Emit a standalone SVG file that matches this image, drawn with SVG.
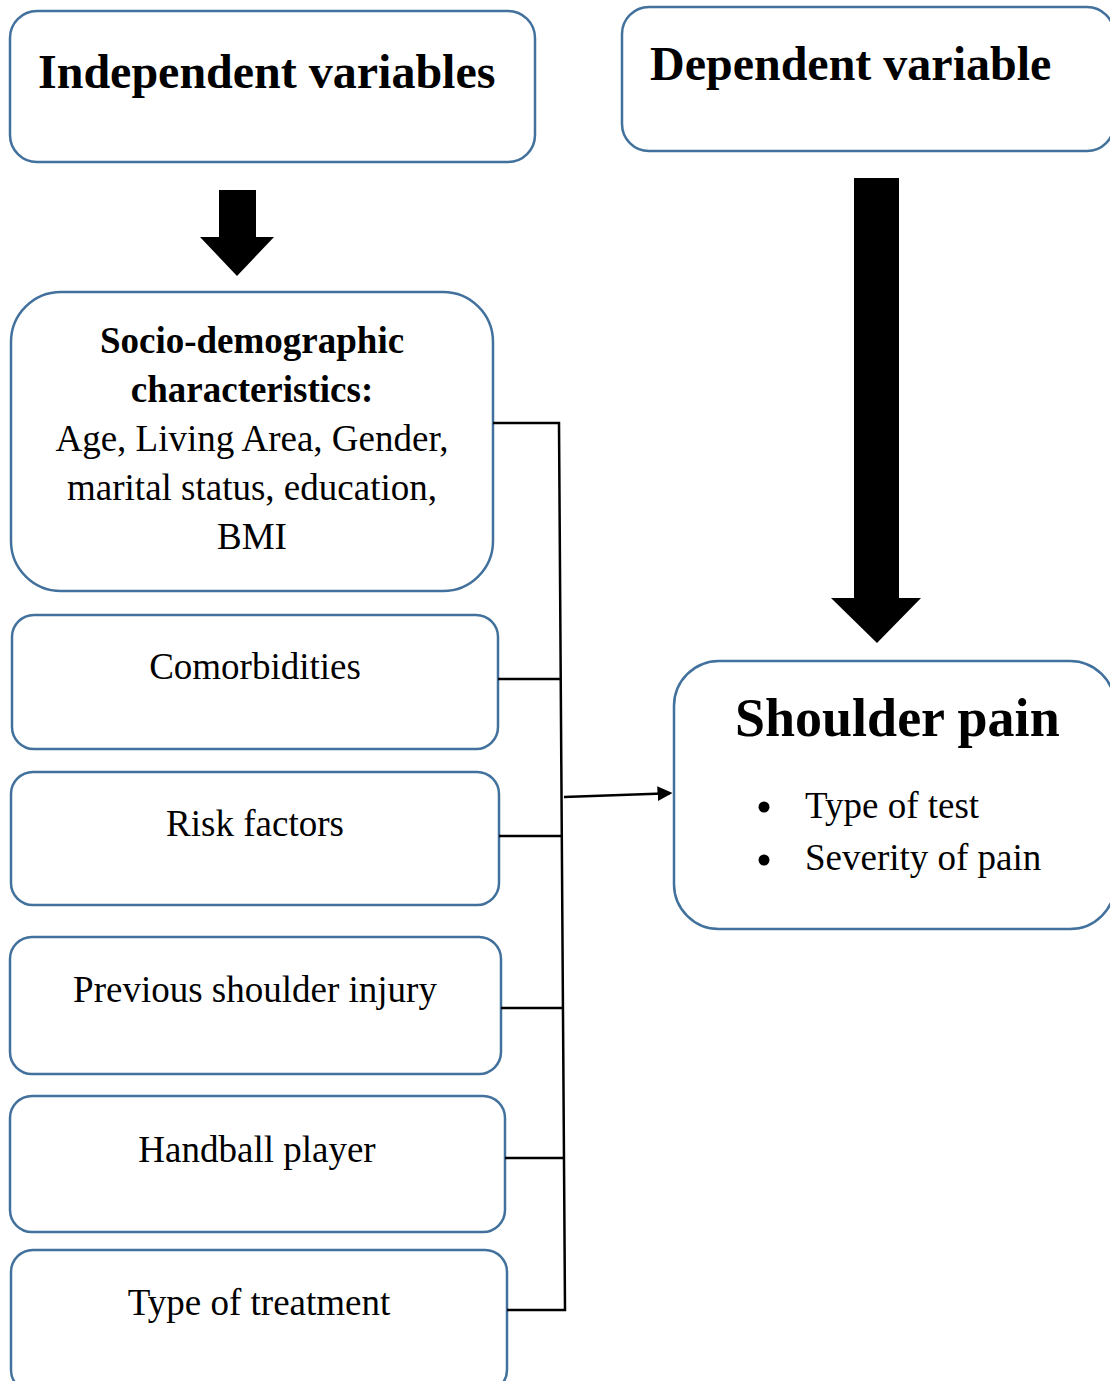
<svg xmlns="http://www.w3.org/2000/svg" width="1110" height="1381" viewBox="0 0 1110 1381">
<defs>
<style>
.box{fill:#ffffff;stroke:#41719c;stroke-width:2.5}
.t{font-family:"Liberation Serif","Times New Roman",serif;fill:#000}
.b{font-weight:bold}
.c{text-anchor:middle}
.ln{fill:none;stroke:#000;stroke-width:2.5}
</style>
<marker id="ah" markerWidth="6" markerHeight="6" refX="5" refY="3" orient="auto" markerUnits="strokeWidth">
<path d="M0,0 L6,3 L0,6 Z" fill="#000"/>
</marker>
</defs>
<rect width="1110" height="1381" fill="#ffffff"/>

<g id="independent">
<rect class="box" x="10" y="11" width="525" height="151" rx="27"/>
<text class="t b" x="38" y="88" font-size="48">Independent variables</text>
</g>

<g id="dependent">
<rect class="box" x="622" y="7" width="492" height="144" rx="27"/>
<text class="t b" x="650" y="80" font-size="48">Dependent variable</text>
</g>

<g id="arrow-left">
<polygon points="219,190 256,190 256,237 274,237 237,276 200,237 219,237" fill="#000"/>
</g>
<g id="arrow-right">
<polygon points="854,178 899,178 899,598 921,598 877,643 831,598 854,598" fill="#000"/>
</g>

<g id="socio">
<rect class="box" x="11" y="292" width="482" height="299" rx="50"/>
<text class="t b c" x="252" y="353" font-size="37">Socio-demographic</text>
<text class="t b c" x="252" y="402" font-size="37">characteristics:</text>
<text class="t c" x="252" y="451" font-size="37">Age, Living Area, Gender,</text>
<text class="t c" x="252" y="500" font-size="37">marital status, education,</text>
<text class="t c" x="252" y="549" font-size="37">BMI</text>
</g>

<g id="comorbidities">
<rect class="box" x="12" y="615" width="486" height="134" rx="22"/>
<text class="t c" x="255" y="679" font-size="37">Comorbidities</text>
</g>

<g id="risk">
<rect class="box" x="11" y="772" width="488" height="133" rx="22"/>
<text class="t c" x="255" y="836" font-size="37">Risk factors</text>
</g>

<g id="previous">
<rect class="box" x="10" y="937" width="491" height="137" rx="22"/>
<text class="t c" x="255" y="1002" font-size="37">Previous shoulder injury</text>
</g>

<g id="handball">
<rect class="box" x="10" y="1096" width="495" height="136" rx="22"/>
<text class="t c" x="257" y="1162" font-size="37">Handball player</text>
</g>

<g id="treatment">
<rect class="box" x="11" y="1250" width="496" height="142" rx="22"/>
<text class="t c" x="259" y="1315" font-size="37">Type of treatment</text>
</g>

<g id="shoulder">
<rect class="box" x="674" y="661" width="441" height="268" rx="45"/>
<text class="t b" x="735" y="736" font-size="54">Shoulder pain</text>
<circle cx="764" cy="807" r="5.5" fill="#000"/>
<circle cx="764" cy="860" r="5.5" fill="#000"/>
<text class="t" x="805" y="818" font-size="37">Type of test</text>
<text class="t" x="805" y="870" font-size="37">Severity of pain</text>
</g>

<g id="connectors">
<polyline class="ln" points="493,423 559,423 565,1310 507,1310"/>
<line class="ln" x1="498" y1="679" x2="561" y2="679"/>
<line class="ln" x1="499" y1="836" x2="563" y2="836"/>
<line class="ln" x1="501" y1="1008" x2="564" y2="1008"/>
<line class="ln" x1="505" y1="1158" x2="564" y2="1158"/>
<line class="ln" x1="564" y1="797" x2="670" y2="793.2" stroke-width="2.5" marker-end="url(#ah)"/>
</g>
</svg>
